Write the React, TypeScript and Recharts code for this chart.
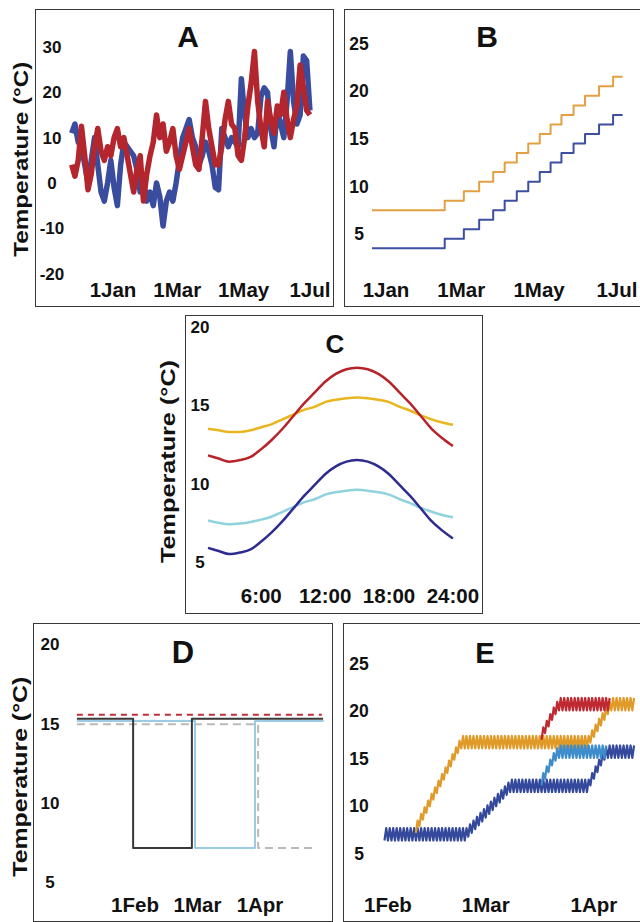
import React from "react";
import { LineChart, Line, XAxis, YAxis } from "recharts";

const FONT = '"Liberation Sans", Arial, Helvetica, sans-serif';
const W = 640;
const H = 922;

// ---------- A: observed temperature, two sites (every 3 days from 38 days before 1 Jan)
const aStartDay = -38;
const aStepDays = 3;
const aBlue = [
  11, 13, 9, 8, 4, 0, 5, 10, 4, -2, -4, 0, 5, -1, -5, 4, 9, 8, 7, 6, 3, -2, 0, -4, -2, -5,
  0, -3, -9.5, -4, -2, -4, 0, 5, 10, 12, 14, 10, 8, 4, 6, 9, 7, 4, -1, -1.5, 12, 10, 8, 10,
  9, 8, 23, 15, 10, 12, 10, 11, 19, 21, 20, 12, 8, 16, 13, 10, 18, 29, 18, 13, 15, 28, 27, 16,
];
const aRed = [
  4, 1.5, 5, 12.5, 6, -1.5, 2, 8, 12, 7, 5, 8, 6, 10, 12, 8, 10, 6, 2, -2, 3, 6, -4, 2, 6, 9,
  15, 10, 13, 7, 9, 12, 6, 3, 6, 9, 12, 8, 4, 3, 10, 18, 12, 8, 4, 4, 8, 14, 18, 13,
  12, 6, 5, 10, 17, 22, 29, 18, 12, 8, 18, 14, 11, 17, 15, 20, 14, 10, 14, 17, 26, 21, 16, 15,
];
const aDateTicks = [0, 59, 120, 181];
const aDateLabels = ["1Jan", "1Mar", "1May", "1Jul"];
const aTempTicks = [-20, -10, 0, 10, 20, 30];

// ---------- B: stepped warming scenarios (days from 1 Jan)
const bStepDays = [-11, 46, 61, 73, 84, 93, 102.5, 111.5, 120.5, 129, 137.5, 147, 156, 167, 178, 185.5];
const bOrange = [7.5, 8.5, 9.5, 10.5, 11.5, 12.5, 13.5, 14.5, 15.5, 16.5, 17.5, 18.5, 19.5, 20.5, 21.5, 21.5];
const bBlue = [3.5, 4.5, 5.5, 6.5, 7.5, 8.5, 9.5, 10.5, 11.5, 12.5, 13.5, 14.5, 15.5, 16.5, 17.5, 17.5];
const bDateTicks = [0, 59, 120, 181];
const bDateLabels = ["1Jan", "1Mar", "1May", "1Jul"];
const bTempTicks = [5, 10, 15, 20, 25];

// ---------- C: daily cycles (hour of day)
const cHours = [1, 2, 3, 4, 5, 6, 7, 8, 9, 10, 11, 12, 13, 14, 15, 16, 17, 18, 19, 20, 21, 22, 23, 24];
const cRed = [11.8, 11.6, 11.4, 11.5, 11.7, 12.2, 12.8, 13.5, 14.3, 15.1, 15.8, 16.5, 17.0, 17.3, 17.4, 17.3, 17.0, 16.5, 15.8, 15.1, 14.3, 13.5, 12.9, 12.4];
const cYellow = [13.5, 13.4, 13.3, 13.3, 13.4, 13.6, 13.8, 14.1, 14.4, 14.7, 14.9, 15.2, 15.35, 15.45, 15.5, 15.45, 15.35, 15.2, 14.9, 14.65, 14.35, 14.1, 13.9, 13.75];
const cNavy = [5.9, 5.7, 5.5, 5.6, 5.8, 6.3, 6.9, 7.6, 8.4, 9.2, 9.9, 10.6, 11.1, 11.4, 11.5, 11.4, 11.1, 10.6, 9.9, 9.2, 8.4, 7.6, 7.0, 6.5];
const cCyan = [7.65, 7.5, 7.4, 7.45, 7.55, 7.7, 7.9, 8.2, 8.5, 8.8, 9.0, 9.3, 9.45, 9.55, 9.6, 9.55, 9.45, 9.3, 9.0, 8.75, 8.45, 8.2, 8.0, 7.85];
const cHourTicks = [6, 12, 18, 24];
const cHourLabels = ["6:00", "12:00", "18:00", "24:00"];
const cTempTicks = [5, 10, 15, 20];

// ---------- D: cold-spell treatments (month units, 1 = 1 Feb)
const dBlackX = [0.07, 0.97, 1.91, 4.01];
const dBlack = [15.3, 7.15, 15.3, 15.3];
const dLightX = [0.07, 1.96, 2.92, 4.02];
const dLight = [15.15, 7.15, 15.15, 15.15];
const dGrayX = [0.07, 2.97, 3.91];
const dGray = [14.95, 7.15, 7.15];
const dRedX = [0.07, 3.99];
const dRed = [15.55, 15.55];
const dMonthTicks = [1, 2, 3];
const dMonthLabels = ["1Feb", "1Mar", "1Apr"];
const dTempTicks = [5, 10, 15, 20];

// ---------- E: ramped treatments, daily means (days from 1 Feb) and diurnal swing
const eSwing = 0.65;
const eBlueStart = -1;
const eBlue = [
  7, 7, 7, 7, 7, 7, 7, 7, 7, 7, 7, 7, 7, 7, 7, 7, 7, 7, 7, 7, 7, 7, 7, 7,
  7.4, 7.8, 8.2, 8.6, 9.0, 9.4, 9.8, 10.2, 10.6, 11.0, 11.4, 11.8, 12.1,
  12.1, 12.1, 12.1, 12.1, 12.1, 12.1, 12.1, 12.1, 12.1, 12.1, 12.1, 12.1, 12.1, 12.1, 12.1, 12.1, 12.1, 12.1, 12.1, 12.1, 12.1, 12.1,
  12.8, 13.5, 14.2, 14.9, 15.5,
  15.7, 15.7, 15.7, 15.7, 15.7, 15.7, 15.7, 15.7,
];
const eOrangeStart = 8;
const eOrange = [
  7.8, 8.5, 9.2, 9.9, 10.6, 11.3, 12.0, 12.7, 13.4, 14.1, 14.8, 15.5, 16.2,
  16.7, 16.7, 16.7, 16.7, 16.7, 16.7, 16.7, 16.7, 16.7, 16.7, 16.7, 16.7, 16.7, 16.7, 16.7, 16.7, 16.7, 16.7, 16.7,
  16.7, 16.7, 16.7, 16.7, 16.7, 16.7, 16.7, 16.7, 16.7, 16.7, 16.7, 16.7, 16.7, 16.7, 16.7, 16.7, 16.7, 16.7,
  17.3, 17.9, 18.5, 19.1, 19.7, 20.3,
  20.7, 20.7, 20.7, 20.7, 20.7, 20.7, 20.7,
];
const eLightStart = 44;
const eLight = [12.8, 13.5, 14.2, 14.9, 15.4, 15.7, 15.7, 15.7, 15.7, 15.7, 15.7, 15.7, 15.7, 15.7, 15.7, 15.7, 15.7, 15.7, 15.7];
const eRedStart = 44;
const eRed = [17.6, 18.3, 19.0, 19.7, 20.3, 20.7, 20.7, 20.7, 20.7, 20.7, 20.7, 20.7, 20.7, 20.7, 20.7, 20.7, 20.7, 20.7, 20.7, 20.7];
const eDayTicks = [0, 28, 59];
const eDayLabels = ["1Feb", "1Mar", "1Apr"];
const eTempTicks = [5, 10, 15, 20, 25];

const zip = (xs: number[], ys: number[]) => xs.map((x, i) => ({ x, v: ys[i] }));
const regular = (start: number, step: number, ys: number[]) => ys.map((v, i) => ({ x: start + step * i, v }));
const zigzag = (start: number, means: number[]) =>
  means.flatMap((m, i) => [
    { x: start + i, v: m - eSwing },
    { x: start + i + 0.5, v: m + eSwing },
  ]);

type PanelProps = {
  x0: number; x1: number; y0: number; y1: number;
  xDomain: [number, number]; yDomain: [number, number];
  xTicks: number[]; xLabels: string[]; xLabelY: number;
  yTicks: number[]; yLabelX: number; yFont: number;
  children: React.ReactNode;
};

const AXIS_W = 20; // thickness reserved for each (invisible) axis

function Panel(p: PanelProps) {
  const XTick = (t: any) => (
    <text x={t.x} y={p.xLabelY} textAnchor="middle" fontFamily={FONT} fontWeight="bold" fontSize={20.5} fill="#111">
      {p.xLabels[p.xTicks.indexOf(t.payload.value)]}
    </text>
  );
  const YTick = (t: any) => (
    <text x={p.yLabelX} y={t.y} dy="0.36em" textAnchor="middle" fontFamily={FONT} fontWeight="bold" fontSize={p.yFont} fill="#111">
      {t.payload.value}
    </text>
  );
  return (
    <div style={{ position: "absolute", left: 0, top: 0 }}>
      <LineChart
        width={W}
        height={H}
        margin={{ top: p.y0, bottom: H - p.y1 - AXIS_W, left: p.x0 - AXIS_W, right: W - p.x1 }}
      >
        <XAxis
          type="number"
          dataKey="x"
          domain={p.xDomain}
          ticks={p.xTicks}
          interval={0}
          height={AXIS_W}
          axisLine={false}
          tickLine={false}
          tick={<XTick />}
        />
        <YAxis
          type="number"
          domain={p.yDomain}
          ticks={p.yTicks}
          interval={0}
          width={AXIS_W}
          axisLine={false}
          tickLine={false}
          tick={<YTick />}
        />
        {p.children}
      </LineChart>
    </div>
  );
}

const boxStyle = (left: number, top: number, width: number, height: number): React.CSSProperties => ({
  position: "absolute", left, top, width, height, boxSizing: "border-box", border: "1.6px solid #383838",
});

const line = (key: string, data: any[], color: string, width: number, type: any = "linear", dash?: string) => (
  <Line
    key={key}
    data={data}
    dataKey="v"
    type={type}
    stroke={color}
    strokeWidth={width}
    strokeDasharray={dash}
    strokeLinejoin="round"
    dot={false}
    isAnimationActive={false}
  />
);

export default function App() {
  const yLabel = (x: number, y: number, len: number) => (
    <text
      transform={`translate(${x},${y}) rotate(-90)`}
      textAnchor="middle"
      textLength={len}
      lengthAdjust="spacingAndGlyphs"
      fontFamily={FONT}
      fontWeight="bold"
      fontSize={21}
      fill="#111"
    >
      Temperature (°C)
    </text>
  );
  const title = (s: string, x: number, y: number, size: number) => (
    <text x={x} y={y} textAnchor="middle" fontFamily={FONT} fontWeight="bold" fontSize={size} fill="#111">{s}</text>
  );

  return (
    <div style={{ position: "absolute", left: 0, top: 0, width: W, height: H, overflow: "hidden", background: "#fff" }}>
      <div style={boxStyle(35, 9, 299, 298)} />
      <div style={boxStyle(344, 9, 310, 298)} />
      <div style={boxStyle(185, 315, 298, 299)} />
      <div style={boxStyle(33, 623, 300, 299)} />
      <div style={boxStyle(343, 623, 310, 299)} />

      {/* A */}
      <Panel x0={69.5} x1={319.7} y0={24.3} y1={296.3} xDomain={[-40, 190]} yDomain={[-25, 35]}
        xTicks={aDateTicks} xLabels={aDateLabels} xLabelY={297} yTicks={aTempTicks} yLabelX={52} yFont={17}>
        {[
          line("aBlue", regular(aStartDay, aStepDays, aBlue), "#3a4c9e", 5.5),
          line("aRed", regular(aStartDay, aStepDays, aRed), "#b3262d", 5.5),
        ]}
      </Panel>

      {/* B */}
      <Panel x0={366.9} x1={628.4} y0={43.45} y1={281.7} xDomain={[-15, 190]} yDomain={[0, 25]}
        xTicks={bDateTicks} xLabels={bDateLabels} xLabelY={297} yTicks={bTempTicks} yLabelX={359} yFont={17.5}>
        {[
          line("bOrange", zip(bStepDays, bOrange), "#e3a043", 2, "stepAfter"),
          line("bBlue", zip(bStepDays, bBlue), "#3c4fa0", 2, "stepAfter"),
        ]}
      </Panel>

      {/* C */}
      <Panel x0={197.35} x1={463.6} y0={326.9} y1={561.95} xDomain={[0, 25]} yDomain={[5, 20]}
        xTicks={cHourTicks} xLabels={cHourLabels} xLabelY={603} yTicks={cTempTicks} yLabelX={200} yFont={17}>
        {[
          line("cYellow", zip(cHours, cYellow), "#e9b520", 2.5, "monotone"),
          line("cRed", zip(cHours, cRed), "#b8232a", 2.5, "monotone"),
          line("cCyan", zip(cHours, cCyan), "#90d2dd", 2.5, "monotone"),
          line("cNavy", zip(cHours, cNavy), "#2f2c8f", 2.5, "monotone"),
        ]}
      </Panel>

      {/* D */}
      <Panel x0={72.5} x1={335} y0={644} y1={882.2} xDomain={[0, 4.2]} yDomain={[5, 20]}
        xTicks={dMonthTicks} xLabels={dMonthLabels} xLabelY={912} yTicks={dTempTicks} yLabelX={50} yFont={17}>
        {[
          line("dGray", zip(dGrayX, dGray), "#bdb9b6", 2, "stepAfter", "8 5"),
          line("dLight", zip(dLightX, dLight), "#9dcbe4", 2, "stepAfter"),
          line("dBlack", zip(dBlackX, dBlack), "#383838", 2, "stepAfter"),
          line("dRed", zip(dRedX, dRed), "#c0303a", 2, "stepAfter", "6 5"),
        ]}
      </Panel>

      {/* E */}
      <Panel x0={377.5} x1={639.3} y0={663.3} y1={853.3} xDomain={[-3, 72]} yDomain={[5, 25]}
        xTicks={eDayTicks} xLabels={eDayLabels} xLabelY={912} yTicks={eTempTicks} yLabelX={359} yFont={17.5}>
        {[
          line("eBlue", zigzag(eBlueStart, eBlue), "#34499c", 2.2),
          line("eOrange", zigzag(eOrangeStart, eOrange), "#e09a28", 2.2),
          line("eLight", zigzag(eLightStart, eLight), "#3d8ccc", 2.2),
          line("eRed", zigzag(eRedStart, eRed), "#bf2a32", 2.2),
        ]}
      </Panel>

      <svg width={W} height={H} style={{ position: "absolute", left: 0, top: 0, pointerEvents: "none" }}>
        {title("A", 188, 47, 30)}
        {title("B", 487, 47, 30)}
        {title("C", 335, 353, 26)}
        {title("D", 183, 663, 31)}
        {title("E", 485, 663, 29)}
        {yLabel(28, 159.2, 195)}
        {yLabel(175, 461.5, 203)}
        {yLabel(26.7, 776.7, 200)}
      </svg>
    </div>
  );
}
